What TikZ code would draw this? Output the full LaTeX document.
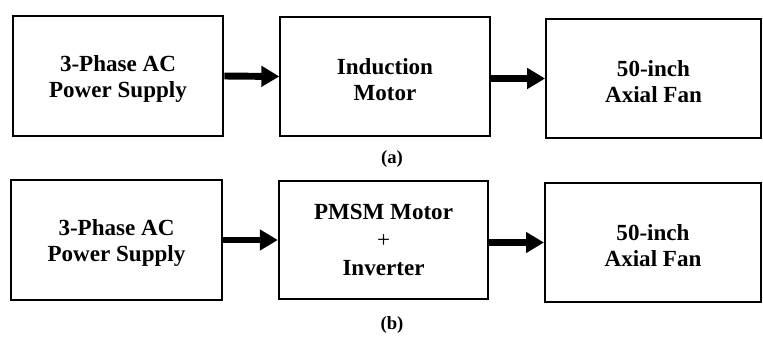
\documentclass[tikz,border=0pt]{standalone}
\usepackage{fontspec}
\setmainfont{Liberation Serif}
\usetikzlibrary{arrows.meta}
\newcommand\topgap{\rule{0pt}{16pt}}
\begin{document}
\begin{tikzpicture}[x=0.75pt,y=-0.75pt,
  box/.style={draw=black, line width=1.5pt, align=center, inner sep=0pt,
    font=\fontsize{17.3}{19.5}\selectfont\bfseries},
  arr/.style={line width=5.2pt, -{Triangle[length=13.5pt,width=15pt]}},
  sublabel/.style={font=\fontsize{14}{16}\selectfont\bfseries}]
\useasboundingbox (0,0) rectangle (763,336);
% row (a)
\node[box, minimum width=158pt, minimum height=90pt] (a1) at (118,76) {\topgap 3-Phase AC\\Power Supply};
\node[box, minimum width=157pt, minimum height=89pt] (a2) at (385,76.5) {\topgap Induction\\Motor};
\node[box, minimum width=161pt, minimum height=89pt] (a3) at (653.5,78.5) {\topgap 50-inch\\Axial Fan};
\draw[arr] (a1.east) -- (a2.west);
\draw[arr] (a2.east |- a3.west) -- (a3.west);
\node[sublabel] (la) at (392,159) {(a)};
% row (b)
\node[box, minimum width=158pt, minimum height=90pt] (b1) at (116.5,240) {\topgap 3-Phase AC\\Power Supply};
\node[box, minimum width=157pt, minimum height=89pt, font=\fontsize{17.3}{21}\selectfont\bfseries] (b2) at (383.5,240) {PMSM Motor\\{\mdseries +}\\Inverter};
\node[box, minimum width=162pt, minimum height=89pt] (b3) at (653,242.5) {\topgap 50-inch\\Axial Fan};
\draw[arr] (b1.east) -- (b2.west);
\draw[arr] (b2.east |- b3.west) -- (b3.west);
\node[sublabel] (lb) at (392,325) {(b)};
\end{tikzpicture}
\end{document}
